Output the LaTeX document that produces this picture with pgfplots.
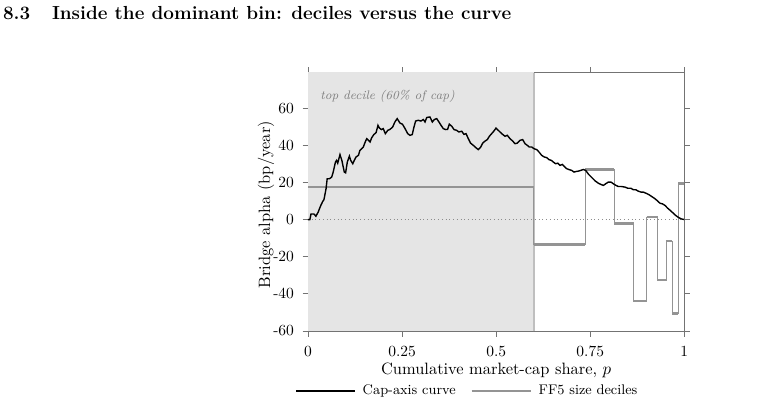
\documentclass[border=0pt]{standalone}
\usepackage{pgfplots}
\pgfplotsset{compat=1.18}
\pgfplotstableread{
x y
0 0
0.005 0
0.008 3
0.016 3
0.021 1.8
0.027 4
0.034 7.6
0.039 9.7
0.0425 10.8
0.048 16.6
0.051 22
0.057 22
0.063 22.9
0.067 25.6
0.073 31
0.076 31.9
0.079 30.4
0.085 35
0.090 31.9
0.0965 25.6
0.100 25.2
0.1045 31
0.110 34.2
0.1135 31.9
0.119 30.1
0.123 31.9
0.1275 33.7
0.134 34.6
0.138 37.3
0.143 38.2
0.147 39.1
0.1515 41.5
0.156 43.6
0.161 42.7
0.165 41.8
0.169 44
0.175 45.8
0.181 46.9
0.186 50.8
0.1895 49.4
0.195 48.5
0.200 49
0.2055 46.3
0.209 47.2
0.212 48.1
0.218 48.6
0.225 49.9
0.231 52.6
0.237 54.4
0.2445 52
0.251 51.4
0.258 49
0.265 46.3
0.271 45.4
0.277 45.8
0.2817 49.9
0.286 53.1
0.293 53.5
0.300 53.1
0.3065 53.9
0.311 52.6
0.3155 55
0.324 55.3
0.3305 52.6
0.3357 53.9
0.342 54.4
0.348 52.6
0.3535 50.8
0.3596 49
0.366 48.5
0.371 48.6
0.3755 51.4
0.382 50.3
0.388 48.5
0.395 48.1
0.401 47.2
0.4085 47.6
0.4145 45.9
0.42 46.3
0.426 43.6
0.432 41.2
0.4393 40
0.4457 38.8
0.4526 37.7
0.459 39.1
0.4643 41.2
0.4704 42.3
0.4765 43.1
0.482 44.9
0.488 46.3
0.494 47.7
0.4996 49.3
0.5057 48.1
0.5147 46.3
0.5235 44.9
0.5296 45.4
0.5368 43.6
0.544 42.3
0.55 40.9
0.556 41.2
0.5634 42.7
0.5705 43.1
0.5767 40.9
0.5828 40
0.588 39.1
0.5945 39.1
0.6006 38.2
0.6077 37.7
0.6139 36.4
0.621 34.6
0.628 33.7
0.6343 33.4
0.6404 32.3
0.6466 31.9
0.6519 31
0.658 30.1
0.6636 30.4
0.6697 29.2
0.6758 29.7
0.6811 28.6
0.6875 27.4
0.6944 26.9
0.7008 26.5
0.7069 25.6
0.7122 25.9
0.7183 26.1
0.7247 26.5
0.7316 27
0.738 26.5
0.745 24.5
0.7539 22.7
0.7627 20.9
0.7715 19.6
0.7786 18.9
0.7848 18.4
0.7911 19.3
0.798 20.2
0.8052 20.2
0.8113 19.3
0.8185 18.4
0.8246 17.8
0.8337 17.8
0.8424 17.5
0.8496 16.9
0.8576 16.9
0.8645 16.1
0.8709 16.1
0.8778 15.3
0.885 14.8
0.891 14.8
0.8982 14.2
0.9062 13.4
0.9134 12.4
0.9203 11.5
0.9275 10.3
0.9354 8.8
0.9416 8.5
0.9487 7.6
0.9559 6.1
0.9628 4.9
0.9708 3.4
0.9772 2.2
0.9841 1.2
0.9912 0.4
1.0 0
}\curvetable
\definecolor{decgray}{gray}{0.58}
\begin{document}
\begin{tikzpicture}
\node[anchor=base west, inner sep=0pt, font=\fontsize{12.2}{14}\selectfont\bfseries] at (1.8pt,248.1pt) {8.3\hspace{14pt}Inside the dominant bin: deciles versus the curve};
\begin{axis}[
  at={(198.7pt,46.8pt)}, anchor=south west,
  scale only axis, width=242.8pt, height=167pt,
  xmin=0, xmax=1, ymin=-60.3, ymax=79.2,
  clip=false,
  xtick={0,0.25,0.5,0.75,1}, xticklabels={0,0.25,0.5,0.75,1},
  ytick={-60,-40,-20,0,20,40,60}, yticklabels={-60,-40,-20,0,20,40,60},
  tick align=outside, major tick length=3.5pt,
  tick style={black!55, line width=0.5pt},
  axis line style={black!55, line width=0.6pt},
  ticklabel style={font=\fontsize{10}{12}\selectfont},
  yticklabel style={xshift=-2pt},
  xticklabel style={yshift=-2.5pt},
  xlabel={Cumulative market-cap share, $p$},
  ylabel={Bridge alpha (bp/year)},
  label style={font=\fontsize{10.6}{12.5}\selectfont},
  xlabel style={at={(axis description cs:0.5,-0.168)}, anchor=base},
  ylabel style={at={(axis description cs:-0.1116,0.49)}, anchor=center},
  legend style={at={(axis description cs:0.425,-0.23)}, anchor=center, draw=none, fill=none,
    font=\fontsize{9}{11}\selectfont, legend columns=2,
    /tikz/every odd column/.append style={column sep=2.5pt},
    /tikz/every even column/.append style={column sep=7.5pt}},
  legend image code/.code={\draw[#1] (0pt,0pt) -- (38pt,0pt);},
]
\addlegendimage{black, line width=0.9pt}
\addlegendentry{Cap-axis curve}
\addlegendimage{decgray, line width=1.6pt}
\addlegendentry{FF5 size deciles}
\addplot[forget plot, fill=black!10, draw=none] coordinates {(0,-60.3) (0,79.6) (0.6,79.6) (0.6,-60.3)} -- cycle;
\addplot[forget plot, black!25, line width=1pt] coordinates {(0.6,-60.3) (0.6,79.2)};
\addplot[forget plot, black!45, dotted, line width=0.4pt] coordinates {(0,0) (1,0)};
\addplot[forget plot, decgray, line width=0.5pt] coordinates {
(0,17.5)(0.6,17.5)(0.6,-13.4)(0.736,-13.4)(0.736,26.9)(0.814,26.9)(0.814,-2.2)(0.865,-2.2)
(0.865,-43.9)(0.900,-43.9)(0.900,1.4)(0.929,1.4)(0.929,-32.6)(0.951,-32.6)(0.951,-11.5)(0.968,-11.5)
(0.968,-50.5)(0.984,-50.5)(0.984,19.4)(1,19.4)};
\addplot[forget plot, decgray, line width=1.6pt, unbounded coords=jump] coordinates {
(0,17.5)(0.6,17.5)(0.6,nan)
(0.6,-13.4)(0.736,-13.4)(0.736,nan)
(0.736,26.9)(0.814,26.9)(0.814,nan)
(0.814,-2.2)(0.865,-2.2)(0.865,nan)
(0.865,-43.9)(0.900,-43.9)(0.900,nan)
(0.900,1.4)(0.929,1.4)(0.929,nan)
(0.929,-32.6)(0.951,-32.6)(0.951,nan)
(0.951,-11.5)(0.968,-11.5)(0.968,nan)
(0.968,-50.5)(0.984,-50.5)(0.984,nan)
(0.984,19.4)(1,19.4)};
\addplot[forget plot, black, line width=0.9pt] table[x=x, y=y] {\curvetable};
\node[anchor=base west, inner sep=0pt, text=black!50, font=\fontsize{8}{9.5}\selectfont\itshape] at (axis cs:0.032,64.6) {top decile (60\% of cap)};
\end{axis}
\pgfresetboundingbox
\useasboundingbox (0,0) rectangle (503.87pt,260.65pt);
\end{tikzpicture}
\end{document}
